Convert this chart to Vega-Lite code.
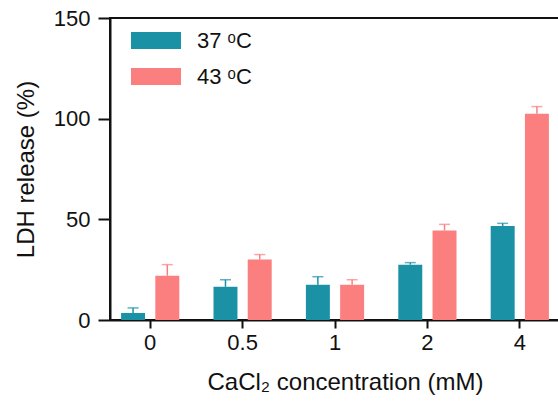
{
  "$schema": "https://vega.github.io/schema/vega-lite/v6.json",
  "width": 450,
  "height": 302,
  "autosize": "none",
  "padding": {"left": 110, "top": 18, "right": 0, "bottom": 82},
  "background": "white",
  "config": {
    "font": "Liberation Sans",
    "view": {"stroke": "#111", "strokeWidth": 2},
    "axis": {
      "domainColor": "#111", "domainWidth": 2, "tickColor": "#111", "tickWidth": 2,
      "labelFont": "Liberation Sans", "labelFontSize": 22, "labelColor": "#111",
      "titleFont": "Liberation Sans", "titleFontSize": 24, "titleColor": "#111", "titleFontWeight": "normal",
      "grid": false
    }
  },
  "data": {
    "values": [
      {"conc": "0", "temp": "37 ᵒC", "mean": 3.5, "upper": 6},
      {"conc": "0", "temp": "43 ᵒC", "mean": 22, "upper": 27.5},
      {"conc": "0.5", "temp": "37 ᵒC", "mean": 16.5, "upper": 20},
      {"conc": "0.5", "temp": "43 ᵒC", "mean": 30, "upper": 32.5},
      {"conc": "1", "temp": "37 ᵒC", "mean": 17.5, "upper": 21.5},
      {"conc": "1", "temp": "43 ᵒC", "mean": 17.5, "upper": 20},
      {"conc": "2", "temp": "37 ᵒC", "mean": 27.5, "upper": 28.5},
      {"conc": "2", "temp": "43 ᵒC", "mean": 44.5, "upper": 47.5},
      {"conc": "4", "temp": "37 ᵒC", "mean": 46.7, "upper": 48},
      {"conc": "4", "temp": "43 ᵒC", "mean": 102.5, "upper": 106}
    ]
  },
  "encoding": {
    "x": {
      "field": "conc", "type": "ordinal", "sort": ["0", "0.5", "1", "2", "4"],
      "scale": {"paddingInner": 0.37, "paddingOuter": 0.12},
      "axis": {"title": "CaCl₂ concentration (mM)", "labelAngle": 0, "tickSize": 8, "labelPadding": 4, "titlePadding": 17, "titleX": 235}
    },
    "xOffset": {
      "field": "temp", "type": "nominal",
      "scale": {"paddingInner": 0.3, "paddingOuter": 0}
    },
    "color": {
      "field": "temp", "type": "nominal",
      "scale": {"domain": ["37 ᵒC", "43 ᵒC"], "range": ["#1a91a5", "#fc7f7f"]},
      "legend": {
        "title": null, "orient": "none", "legendX": 21, "legendY": -2.5,
        "symbolType": "M-1,-0.34H1V0.34H-1Z", "symbolSize": 2500, "symbolStrokeWidth": 0, "symbolOpacity": 1,
        "labelFont": "Liberation Sans", "labelFontSize": 22, "labelColor": "#111", "labelOffset": 16, "rowPadding": -18
      }
    }
  },
  "layer": [
    {
      "mark": {"type": "rule", "strokeWidth": 1.5},
      "encoding": {
        "y": {"field": "mean", "type": "quantitative"},
        "y2": {"field": "upper"}
      }
    },
    {
      "mark": {"type": "tick", "thickness": 1.5, "size": 11, "orient": "horizontal"},
      "encoding": {
        "y": {"field": "upper", "type": "quantitative"}
      }
    },
    {
      "mark": {"type": "bar"},
      "encoding": {
        "y": {
          "field": "mean", "type": "quantitative",
          "scale": {"domain": [0, 150], "nice": false},
          "axis": {"title": "LDH release (%)", "values": [0, 50, 100, 150], "tickSize": 12, "labelPadding": 8, "titlePadding": 15}
        }
      }
    }
  ]
}
